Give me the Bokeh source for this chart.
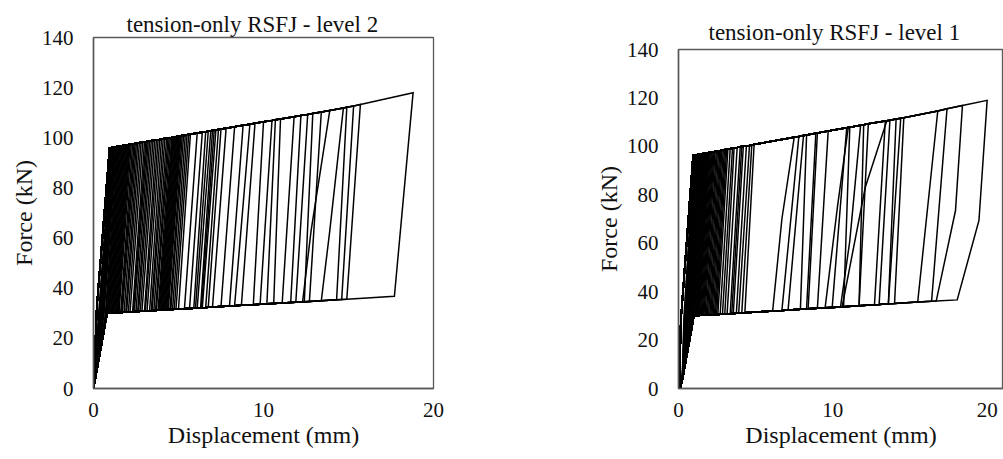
import numpy as np
from bokeh.plotting import figure
from bokeh.models import ColumnDataSource, Range1d, FixedTicker
from bokeh.layouts import row
from bokeh.embed import file_html
from bokeh.resources import INLINE

# ---------------- Level 2 (left panel) ----------------
L2_title = "tension-only RSFJ - level 2"
L2_peak_d = [1.02, 1.05, 1.08, 1.12, 1.15, 1.18, 1.22, 1.25, 1.30, 1.35, 1.40, 1.45, 1.50, 1.55,
             1.60, 1.65, 1.70, 1.75, 1.80, 1.85, 1.90, 1.95, 2.00, 2.05, 2.10, 2.15, 2.22, 2.30,
             2.38, 2.45, 2.52, 2.60, 2.70, 2.80, 2.90, 3.00, 3.08, 3.15, 3.22, 3.30, 3.40, 3.50,
             3.60, 3.70, 3.80, 3.90, 4.00, 4.10, 4.20, 4.30, 4.38, 4.45, 4.52, 4.60, 4.65, 4.70,
             4.75, 4.80, 4.85, 4.90, 4.95, 5.00, 5.05, 5.10, 5.15, 5.22, 5.30, 5.40, 5.50, 5.60,
             5.70, 6.10, 6.40, 6.60, 6.75, 6.90, 7.00, 7.10, 7.20, 7.35, 7.50, 7.80, 8.30, 8.80,
             9.20, 9.50, 10.00, 10.50, 10.70, 11.00, 11.80, 12.20, 12.60, 12.90, 13.40, 13.90,
             14.70, 14.90, 15.30, 15.70, 18.80]
L2_peak_f = [96.0, 96.1, 96.1, 96.1, 96.2, 96.2, 96.3, 96.3, 96.3, 96.4, 96.5, 96.5, 96.6, 96.6,
             96.7, 96.7, 96.8, 96.9, 96.9, 97.0, 97.0, 97.1, 97.2, 97.2, 97.3, 97.3, 97.4, 97.5,
             97.6, 97.7, 97.7, 97.8, 98.0, 98.1, 98.2, 98.3, 98.4, 98.5, 98.6, 98.6, 98.8, 98.9,
             99.0, 99.1, 99.2, 99.3, 99.5, 99.6, 99.7, 99.8, 99.9, 100.0, 100.0, 100.1, 100.2, 100.3,
             100.3, 100.4, 100.4, 100.5, 100.5, 100.6, 100.7, 100.7, 100.8, 100.9, 100.9, 101.1, 101.2, 101.3,
             101.4, 101.9, 102.2, 102.4, 102.6, 102.8, 102.9, 103.0, 103.1, 103.3, 103.5, 103.8, 104.4, 105.0,
             105.4, 105.8, 106.4, 106.9, 107.2, 107.5, 108.4, 108.9, 109.3, 109.7, 110.3, 110.9,
             111.9, 112.2, 112.7, 113.3, 118.0]
L2_valley_d = [0.30, 0.35, 0.40, 0.42, 0.45, 0.50, 0.52, 0.55, 0.60, 0.62, 0.70, 0.75, 0.80, 0.85,
               0.90, 0.95, 1.00, 1.05, 1.10, 1.15, 1.20, 1.25, 1.30, 1.35, 1.40, 1.45, 1.50, 1.60,
               1.65, 1.70, 1.80, 1.90, 1.95, 2.05, 2.15, 2.30, 2.35, 2.40, 2.50, 2.60, 2.65, 2.75,
               2.85, 3.00, 3.05, 3.15, 3.30, 3.40, 3.45, 3.55, 3.65, 3.70, 3.80, 3.85, 3.90, 3.95,
               4.00, 4.05, 4.10, 4.15, 4.20, 4.25, 4.30, 4.35, 4.40, 4.50, 4.55, 4.65, 4.75, 4.85,
               5.00, 5.35, 5.65, 5.90, 6.00, 6.10, 6.30, 6.35, 6.40, 6.60, 6.75, 7.00, 7.50, 8.00,
               8.30, 8.70, 9.40, 9.80, 10.20, 10.60, 11.10, 11.60, 11.90, 12.40, 12.70, 12.30,
               13.40, 14.30, 14.60, 14.90, 17.70]
L2_valley_f = [30.0, 30.0, 30.0, 30.0, 30.0, 30.0, 30.0, 30.0, 30.0, 30.0, 30.0, 30.0, 30.0, 30.0,
               30.0, 30.1, 30.1, 30.1, 30.1, 30.1, 30.2, 30.2, 30.2, 30.2, 30.2, 30.3, 30.3, 30.3,
               30.3, 30.4, 30.4, 30.4, 30.5, 30.5, 30.5, 30.6, 30.6, 30.6, 30.7, 30.7, 30.7, 30.8,
               30.8, 30.9, 30.9, 30.9, 31.0, 31.0, 31.1, 31.1, 31.1, 31.2, 31.2, 31.2, 31.2, 31.3,
               31.3, 31.3, 31.3, 31.3, 31.4, 31.4, 31.4, 31.4, 31.4, 31.5, 31.5, 31.5, 31.6, 31.6,
               31.7, 31.8, 31.9, 32.0, 32.1, 32.1, 32.2, 32.2, 32.2, 32.3, 32.4, 32.5, 32.7, 32.9,
               33.0, 33.2, 33.4, 33.6, 33.8, 33.9, 34.1, 34.3, 34.4, 34.6, 34.7, 34.6,
               35.0, 35.4, 35.5, 35.6, 36.8]
L2_kink_peak = [13.90, 14.70]
L2_kink_d = [12.80, 13.90]
L2_kink_f = [63.0, 63.0]
L2_load_d = [0.0, 0.20, 0.95]
L2_load_f = [0.0, 33.0, 96.0]
L2_tail_d = [0.80, 0.0]
L2_tail_f = [30.0, 0.0]

# ---------------- Level 1 (right panel) ----------------
L1_title = "tension-only RSFJ - level 1"
L1_peak_d = [1.00, 1.03, 1.06, 1.09, 1.12, 1.15, 1.18, 1.21, 1.24, 1.27, 1.30, 1.34, 1.38, 1.42,
             1.46, 1.50, 1.55, 1.60, 1.65, 1.70, 1.75, 1.80, 1.85, 1.90, 1.95, 2.00, 2.06, 2.12,
             2.18, 2.24, 2.30, 2.37, 2.45, 2.52, 2.60, 2.68, 2.75, 2.82, 2.90, 2.98, 3.05, 3.12,
             3.20, 3.35, 3.50, 3.60, 3.80, 4.00, 4.10, 4.20, 4.40, 4.60, 4.75, 4.90,
             7.50, 7.80, 8.10, 8.30, 8.90, 9.00, 9.70, 10.90, 11.00, 11.10, 11.80, 12.00, 12.30,
             13.40, 13.50, 13.70, 14.10, 14.40, 14.60, 16.80, 17.40, 18.40, 20.00]
L1_peak_f = [96.3, 96.3, 96.4, 96.4, 96.4, 96.5, 96.5, 96.5, 96.6, 96.6, 96.6, 96.7, 96.7, 96.8,
             96.8, 96.9, 96.9, 97.0, 97.0, 97.1, 97.2, 97.2, 97.3, 97.3, 97.4, 97.5, 97.5, 97.6,
             97.7, 97.7, 97.8, 97.9, 98.0, 98.0, 98.1, 98.2, 98.3, 98.4, 98.5, 98.6, 98.7, 98.7,
             98.8, 99.0, 99.2, 99.3, 99.5, 99.8, 99.9, 100.0, 100.2, 100.4, 100.6, 100.8,
             103.8, 104.1, 104.5, 104.7, 105.4, 105.5, 106.3, 107.7, 107.8, 107.9, 108.7, 108.9, 109.3,
             110.5, 110.6, 110.8, 111.3, 111.6, 111.8, 114.6, 115.5, 116.9, 119.0]
L1_valley_d = [0.35, 0.38, 0.41, 0.44, 0.47, 0.50, 0.53, 0.56, 0.59, 0.62, 0.65, 0.69, 0.73, 0.77,
               0.81, 0.85, 0.90, 0.95, 1.00, 1.05, 1.10, 1.15, 1.20, 1.25, 1.30, 1.35, 1.41, 1.47,
               1.53, 1.59, 1.65, 1.72, 1.80, 1.87, 1.95, 2.03, 2.10, 2.17, 2.25, 2.33, 2.40, 2.47,
               2.55, 2.70, 2.85, 3.00, 3.15, 3.35, 3.45, 3.55, 3.75, 3.90, 4.10, 4.30,
               6.10, 6.70, 7.10, 7.90, 8.30, 8.40, 9.00, 9.96, 9.50, 10.70, 10.50, 11.70, 11.70,
               12.70, 10.60, 13.00, 13.60, 13.60, 14.00, 15.50, 16.40, 16.70, 18.06]
L1_valley_f = [29.0, 29.0, 29.0, 29.0, 29.0, 29.0, 29.0, 29.0, 29.0, 29.0, 29.0, 29.0, 29.0, 29.0,
               29.0, 29.0, 29.0, 29.0, 30.0, 30.0, 30.0, 30.1, 30.1, 30.1, 30.1, 30.1, 30.2, 30.2,
               30.2, 30.2, 30.3, 30.3, 30.3, 30.3, 30.4, 30.4, 30.4, 30.5, 30.5, 30.5, 30.5, 30.6,
               30.6, 30.7, 30.7, 30.8, 30.8, 30.9, 31.0, 31.0, 31.1, 31.1, 31.2, 31.3,
               32.0, 32.2, 32.4, 32.7, 32.9, 32.9, 33.1, 33.5, 33.3, 33.8, 33.7, 34.2, 34.2,
               34.6, 33.7, 34.7, 35.0, 35.0, 35.1, 35.7, 36.0, 36.1, 36.6]
L1_kink_peak = [7.50, 11.00, 11.80, 13.50, 18.40, 20.00]
L1_kink_d = [6.70, 10.30, 11.10, 12.10, 17.95, 19.47]
L1_kink_f = [70.0, 75.0, 61.0, 83.0, 73.5, 69.4]
L1_load_d = [0.05, 0.15, 0.95]
L1_load_f = [0.0, 28.0, 96.3]
L1_tail_d = [1.00, 0.24, 0.10]
L1_tail_f = [30.0, 3.3, 0.0]


def build_paths(peak_d, peak_f, valley_d, valley_f, kink_peak, kink_d, kink_f,
                load_d, load_f, tail_d, tail_f):
    pk = sorted(zip(peak_d, peak_f))
    lo_start = tail_d[0]
    vl = sorted((d, f) for d, f in zip(valley_d, valley_f) if d >= lo_start)
    kinks = {kp: (kd, kf) for kp, kd, kf in zip(kink_peak, kink_d, kink_f)}
    xs_all, ys_all = [], []
    for d_p, f_p, d_v, f_v in zip(peak_d, peak_f, valley_d, valley_f):
        xs = list(load_d)
        ys = list(load_f)
        for d, f in pk:
            if d < d_p:
                xs.append(d)
                ys.append(f)
        xs.append(d_p)
        ys.append(f_p)
        if d_p in kinks:
            xs.append(kinks[d_p][0])
            ys.append(kinks[d_p][1])
        xs.append(d_v)
        ys.append(f_v)
        if d_v >= lo_start:
            for d, f in reversed(vl):
                if d < d_v:
                    xs.append(d)
                    ys.append(f)
            xs.extend(tail_d)
            ys.extend(tail_f)
        else:
            for d, f in zip(tail_d, tail_f):
                if d < d_v:
                    xs.append(d)
                    ys.append(f)
        xs_all.append(xs)
        ys_all.append(ys)
    return xs_all, ys_all


FONT = "Liberation Serif"
AXIS_COLOR = "#595959"
TEXT_COLOR = "#111111"


def make_panel(title, title_offset, title_standoff, width, height, xmax, b_left, b_right,
               b_top, paths):
    p = figure(width=width, height=height, output_backend="svg", toolbar_location=None,
               x_range=Range1d(0, xmax), y_range=Range1d(0, 140),
               min_border_left=b_left, min_border_right=b_right,
               min_border_top=b_top, min_border_bottom=71)
    p.frame_align = False
    p.title.text = title
    p.title.text_font = FONT
    p.title.text_font_size = "23px"
    p.title.text_font_style = "normal"
    p.title.text_color = TEXT_COLOR
    p.title.align = "left"
    p.title.offset = title_offset
    p.title.standoff = title_standoff
    p.xgrid.visible = False
    p.ygrid.visible = False
    p.outline_line_color = AXIS_COLOR
    p.outline_line_width = 1.3
    p.background_fill_color = "white"
    p.border_fill_color = "white"
    p.xaxis.ticker = FixedTicker(ticks=[0, 10, 20])
    p.yaxis.ticker = FixedTicker(ticks=[0, 20, 40, 60, 80, 100, 120, 140])
    p.xaxis.axis_label = "Displacement (mm)"
    p.yaxis.axis_label = "Force (kN)"
    for ax in (p.xaxis, p.yaxis):
        ax.axis_line_color = AXIS_COLOR
        ax.axis_line_width = 1.5
        ax.major_tick_line_color = None
        ax.minor_tick_line_color = None
        ax.major_tick_in = 0
        ax.major_tick_out = 0
        ax.major_label_text_font = FONT
        ax.major_label_text_font_size = "21px"
        ax.major_label_text_color = TEXT_COLOR
        ax.axis_label_text_font = FONT
        ax.axis_label_text_font_size = "24px"
        ax.axis_label_text_font_style = "normal"
        ax.axis_label_text_color = TEXT_COLOR
    p.yaxis.major_label_standoff = 20
    p.xaxis.major_label_standoff = 14
    p.yaxis.axis_label_standoff = 2
    p.xaxis.axis_label_standoff = 2
    xs, ys = paths
    src = ColumnDataSource(data=dict(xs=xs, ys=ys))
    p.multi_line(xs="xs", ys="ys", source=src, line_color="black", line_width=1.5,
                 line_join="miter")
    return p


paths2 = build_paths(L2_peak_d, L2_peak_f, L2_valley_d, L2_valley_f,
                     L2_kink_peak, L2_kink_d, L2_kink_f,
                     L2_load_d, L2_load_f, L2_tail_d, L2_tail_f)
paths1 = build_paths(L1_peak_d, L1_peak_f, L1_valley_d, L1_valley_f,
                     L1_kink_peak, L1_kink_d, L1_kink_f,
                     L1_load_d, L1_load_f, L1_tail_d, L1_tail_f)

p_left = make_panel(L2_title, 33, 2, 560, 459, 20, 93, 127, 37, paths2)
p_right = make_panel(L1_title, 30, 9, 443, 459, 21.06, 118, 0, 49, paths1)

layout = row(p_left, p_right)
open("out.html", "w").write(file_html(layout, INLINE))
